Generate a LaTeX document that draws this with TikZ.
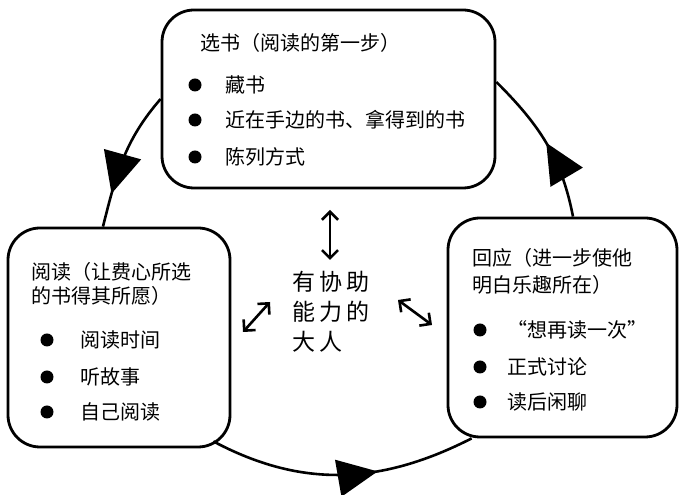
\documentclass[tikz,border=0pt]{standalone}
\usepackage{fontspec}
\setmainfont{Noto Sans CJK SC}
\usetikzlibrary{arrows.meta,decorations.markings,calc}
\begin{document}
\begin{tikzpicture}[x=1pt,y=1pt,
  box/.style={draw, line width=2.8pt, rounded corners=32pt, inner sep=0},
  txt/.style={anchor=west, inner sep=0, font=\fontsize{20}{24}\selectfont},
  dot/.style={circle, fill, inner sep=0, minimum size=13pt},
  cyc/.style={line width=2.6pt, postaction={decorate}},
  barb/.style={Straight Barb[length=8pt,width=16pt,line width=2.6pt]},
  dbl/.style={line width=2.6pt, {Straight Barb[length=8pt,width=16pt]}-{Straight Barb[length=8pt,width=16pt]}}
]
\useasboundingbox (0,0) rectangle (681,495);

\node[box, minimum width=333pt, minimum height=178pt] (top) at (328.5,396) {};
\node[box, minimum width=222pt, minimum height=219pt] (left) at (119,157.5) {};
\node[box, minimum width=229pt, minimum height=219pt] (right) at (562.5,167.5) {};

% top box
\node[txt] (t0) at (200,452) {选书（阅读的第一步）};
\node[dot] (td1) at (195,410) {}; \node[txt] (t1) at (225,410) {藏书};
\node[dot] (td2) at (195,375) {}; \node[txt] (t2) at (225,375) {近在手边的书、拿得到的书};
\node[dot] (td3) at (195,338) {}; \node[txt] (t3) at (225,338) {陈列方式};

% left box
\node[txt] (l0a) at (31,223) {阅读（让费心所选};
\node[txt] (l0b) at (31,199) {的书得其所愿）};
\node[dot] (ld1) at (47,155) {}; \node[txt] (l1) at (80,155) {阅读时间};
\node[dot] (ld2) at (47,118) {}; \node[txt] (l2) at (80,118) {听故事};
\node[dot] (ld3) at (47,83) {};  \node[txt] (l3) at (80,83) {自己阅读};

% right box
\node[txt] (r0a) at (472,237) {回应（进一步使他};
\node[txt] (r0b) at (472,210) {明白乐趣所在）};
\node[dot] (rd1) at (480,165) {}; \node[txt] (r1) at (507,165) {“想再读一次”};
\node[dot] (rd2) at (480,128) {}; \node[txt] (r2) at (507,128) {正式讨论};
\node[dot] (rd3) at (480,93) {};  \node[txt] (r3) at (507,93) {读后闲聊};

% centre
\node[anchor=west, inner sep=0, align=left,
  font=\fontsize{23}{30}\selectfont\addfontfeature{LetterSpace=18}] (adult) at (292,183) {有协助\\能力的\\大人};

% double arrows
\coordinate (v1) at (330,285); \coordinate (v2) at (330,235);
\coordinate (la1) at (243,163); \coordinate (la2) at (270,193);
\coordinate (ra1) at (398,195); \coordinate (ra2) at (432,170);
\draw[dbl] (v1) -- (v2);
\draw[dbl] (la1) -- (la2);
\draw[dbl] (ra1) -- (ra2);

% cycle arcs
\coordinate (b1) at ([shift={(-18pt,7pt)}]left.south east);
\coordinate (b2) at ([xshift=25pt]right.south west);
\draw[cyc, decoration={markings, mark=at position 0.76 with {\arrow{Triangle[length=41pt,width=38pt]}}}]
  (top.west) to[out=229,in=76] ([xshift=-16pt]left.north);
\draw[cyc, decoration={markings, mark=at position 0.63 with {\arrow{Triangle[length=40pt,width=37pt]}}}]
  (b1) to[out=-28,in=207] (b2);
\draw[cyc, decoration={markings, mark=at position 0.5 with {\arrow{Triangle[length=40pt,width=37pt]}}}]
  ([xshift=10.5pt]right.north) to[out=101,in=-45] ([yshift=17pt]top.east);
\end{tikzpicture}
\end{document}
